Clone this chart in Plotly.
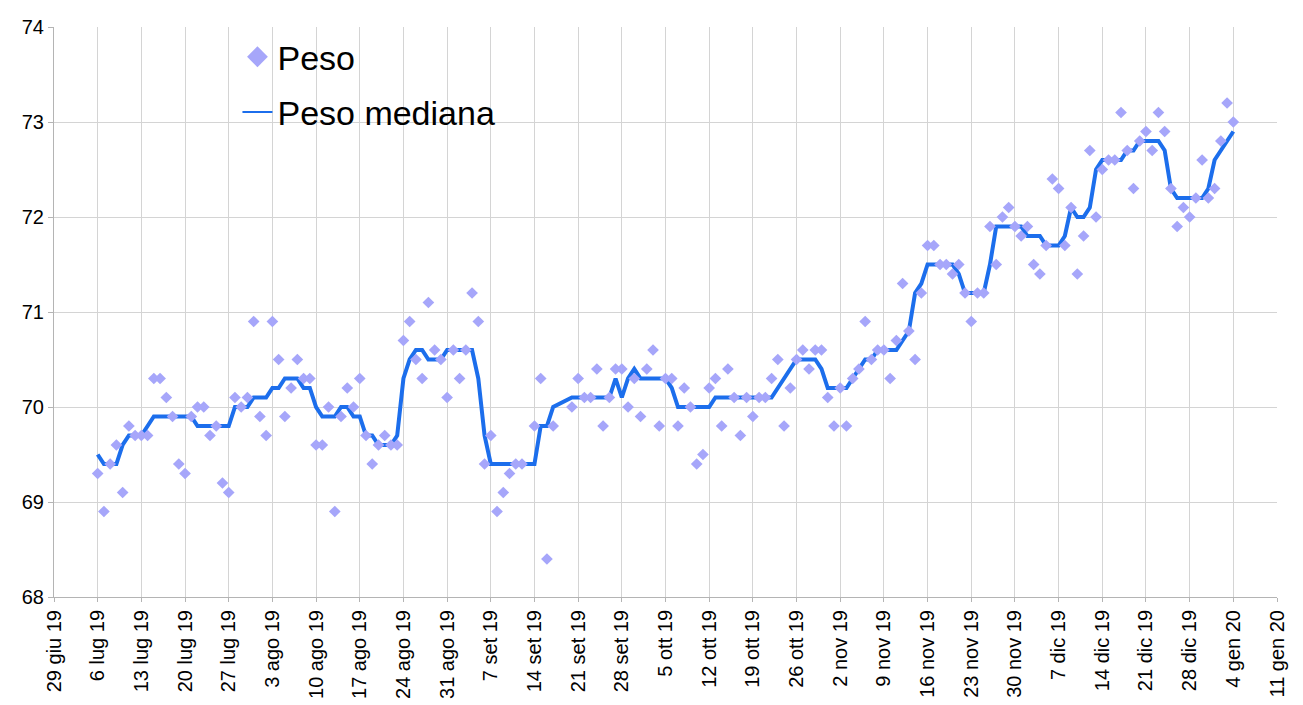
import pandas as pd
import plotly.graph_objects as go

# Daily readings from 6 lug 2019 to 4 gen 2020 (three days without a reading)
first_day = "2019-07-06"
last_day = "2020-01-04"
missing_days = ["2019-09-13", "2019-09-18", "2019-09-19"]

peso = [
    # luglio (6-31)
    69.3, 68.9, 69.4, 69.6, 69.1, 69.8, 69.7, 69.7, 69.7, 70.3, 70.3, 70.1, 69.9,
    69.4, 69.3, 69.9, 70.0, 70.0, 69.7, 69.8, 69.2, 69.1, 70.1, 70.0, 70.1, 70.9,
    # agosto
    69.9, 69.7, 70.9, 70.5, 69.9, 70.2, 70.5, 70.3, 70.3, 69.6, 69.6, 70.0, 68.9,
    69.9, 70.2, 70.0, 70.3, 69.7, 69.4, 69.6, 69.7, 69.6, 69.6, 70.7, 70.9, 70.5,
    70.3, 71.1, 70.6, 70.5, 70.1,
    # settembre
    70.6, 70.3, 70.6, 71.2, 70.9, 69.4, 69.7, 68.9, 69.1, 69.3, 69.4, 69.4,
    69.8, 70.3, 68.4, 69.8,
    70.0, 70.3, 70.1, 70.1, 70.4, 69.8, 70.1, 70.4, 70.4, 70.0, 70.3,
    # ottobre
    69.9, 70.4, 70.6, 69.8, 70.3, 70.3, 69.8, 70.2, 70.0, 69.4, 69.5, 70.2, 70.3,
    69.8, 70.4, 70.1, 69.7, 70.1, 69.9, 70.1, 70.1, 70.3, 70.5, 69.8, 70.2, 70.5,
    70.6, 70.4, 70.6, 70.6, 70.1,
    # novembre
    69.8, 70.2, 69.8, 70.3, 70.4, 70.9, 70.5, 70.6, 70.6, 70.3, 70.7, 71.3, 70.8,
    70.5, 71.2, 71.7, 71.7, 71.5, 71.5, 71.4, 71.5, 71.2, 70.9, 71.2, 71.2, 71.9,
    71.5, 72.0, 72.1, 71.9,
    # dicembre
    71.8, 71.9, 71.5, 71.4, 71.7, 72.4, 72.3, 71.7, 72.1, 71.4, 71.8, 72.7, 72.0,
    72.5, 72.6, 72.6, 73.1, 72.7, 72.3, 72.8, 72.9, 72.7, 73.1, 72.9, 72.3, 71.9,
    72.1, 72.0, 72.2, 72.6, 72.2,
    # gennaio
    72.3, 72.8, 73.2, 73.0,
]

peso_mediana = [
    # luglio (6-31)
    69.5, 69.4, 69.4, 69.4, 69.6, 69.7, 69.7, 69.7, 69.8, 69.9, 69.9, 69.9, 69.9,
    69.9, 69.9, 69.9, 69.8, 69.8, 69.8, 69.8, 69.8, 69.8, 70.0, 70.0, 70.0, 70.1,
    # agosto
    70.1, 70.1, 70.2, 70.2, 70.3, 70.3, 70.3, 70.2, 70.2, 70.0, 69.9, 69.9, 69.9,
    70.0, 70.0, 69.9, 69.9, 69.7, 69.7, 69.6, 69.6, 69.6, 69.7, 70.3, 70.5, 70.6,
    70.6, 70.5, 70.5, 70.5, 70.6,
    # settembre
    70.6, 70.6, 70.6, 70.6, 70.3, 69.7, 69.4, 69.4, 69.4, 69.4, 69.4, 69.4,
    69.4, 69.8, 69.8, 70.0,
    70.1, 70.1, 70.1, 70.1, 70.1, 70.1, 70.1, 70.3, 70.1, 70.3, 70.4,
    # ottobre
    70.3, 70.3, 70.3, 70.3, 70.3, 70.2, 70.0, 70.0, 70.0, 70.0, 70.0, 70.0, 70.1,
    70.1, 70.1, 70.1, 70.1, 70.1, 70.1, 70.1, 70.1, 70.1, 70.2, 70.3, 70.4, 70.5,
    70.5, 70.5, 70.5, 70.4, 70.2,
    # novembre
    70.2, 70.2, 70.2, 70.3, 70.4, 70.5, 70.5, 70.6, 70.6, 70.6, 70.6, 70.7, 70.8,
    71.2, 71.3, 71.5, 71.5, 71.5, 71.5, 71.5, 71.4, 71.2, 71.2, 71.2, 71.2, 71.5,
    71.9, 71.9, 71.9, 71.9,
    # dicembre
    71.9, 71.8, 71.8, 71.8, 71.7, 71.7, 71.7, 71.8, 72.1, 72.0, 72.0, 72.1, 72.5,
    72.6, 72.6, 72.6, 72.6, 72.7, 72.7, 72.8, 72.8, 72.8, 72.8, 72.7, 72.3, 72.2,
    72.2, 72.2, 72.2, 72.2, 72.3,
    # gennaio
    72.6, 72.7, 72.8, 72.9,
]

tick_labels = [
    "29 giu 19", "6 lug 19", "13 lug 19", "20 lug 19", "27 lug 19", "3 ago 19",
    "10 ago 19", "17 ago 19", "24 ago 19", "31 ago 19", "7 set 19", "14 set 19",
    "21 set 19", "28 set 19", "5 ott 19", "12 ott 19", "19 ott 19", "26 ott 19",
    "2 nov 19", "9 nov 19", "16 nov 19", "23 nov 19", "30 nov 19", "7 dic 19",
    "14 dic 19", "21 dic 19", "28 dic 19", "4 gen 20", "11 gen 20",
]

days = pd.date_range(first_day, last_day, freq="D")
days = days[~days.isin(pd.to_datetime(missing_days))]
tick_days = pd.date_range("2019-06-29", periods=len(tick_labels), freq="7D")

line_color = "rgb(28,110,236)"
marker_color = "rgb(166,166,250)"
grid_color = "#d4d4d4"

fig = go.Figure()

fig.add_trace(go.Scatter(x=days, y=peso_mediana, mode="lines", name="Peso mediana",
                         line=dict(color=line_color, width=4), showlegend=False))
fig.add_trace(go.Scatter(x=days, y=peso, mode="markers", name="Peso",
                         marker=dict(symbol="diamond", size=9, color=marker_color),
                         showlegend=False))

# legend entries (bigger symbol, thinner line than in the plot)
fig.add_trace(go.Scatter(x=[None], y=[None], mode="markers", name="Peso",
                         marker=dict(symbol="diamond", size=16, color=marker_color),
                         legendgroup="a"))
fig.add_trace(go.Scatter(x=[None], y=[None], mode="lines", name="Peso mediana",
                         line=dict(color=line_color, width=2), legendgroup="b"))

# the page body adds 8px around the figure, so the figure is a bit smaller
fig.update_layout(
    width=1295, height=697,
    margin=dict(l=46, r=26, t=19, b=108),
    paper_bgcolor="white", plot_bgcolor="white",
    font=dict(family="Liberation Sans, Arial, sans-serif", color="black"),
    legend=dict(x=0.150, y=0.998, xanchor="left", yanchor="top",
                font=dict(size=34), bgcolor="rgba(0,0,0,0)",
                tracegroupgap=8, itemsizing="trace"),
)

fig.update_xaxes(type="date", range=["2019-06-29", "2020-01-11"],
                 tickvals=tick_days, ticktext=tick_labels, tickangle=-90,
                 tickfont=dict(size=20), showgrid=True, gridcolor=grid_color, gridwidth=1,
                 showline=True, linecolor="#b4b4b4", linewidth=1, automargin=False,
                 ticks="outside", ticklen=4, tickcolor="#b4b4b4", zeroline=False)
fig.update_yaxes(range=[68, 74], dtick=1, tickfont=dict(size=20),
                 showgrid=True, gridcolor=grid_color, gridwidth=1,
                 showline=True, linecolor="#b4b4b4", linewidth=1, automargin=False,
                 ticks="outside", ticklen=5, tickcolor="#b4b4b4", zeroline=False)

fig.write_html("out.html")
